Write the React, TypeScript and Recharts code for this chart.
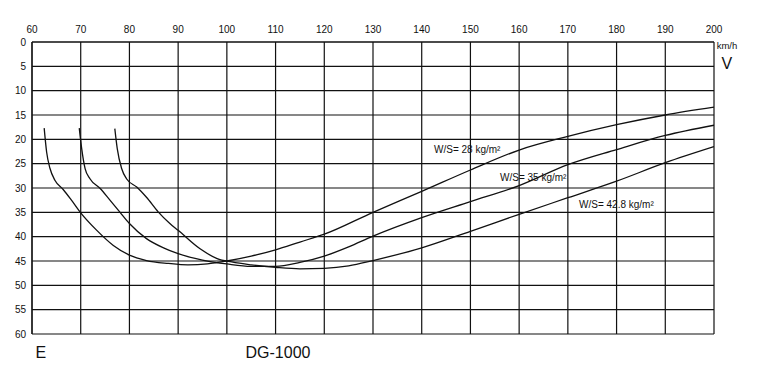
import { LineChart, Line, XAxis, YAxis, CartesianGrid } from 'recharts';

const speedTicks = [60, 70, 80, 90, 100, 110, 120, 130, 140, 150, 160, 170, 180, 190, 200];
const glideTicks = [0, 5, 10, 15, 20, 25, 30, 35, 40, 45, 50, 55, 60];

// W/S = 28 kg/m²
const speed28 = [62.5, 63, 63.7, 64.7, 66.4, 68.1, 70, 73.3, 76.7, 80, 83.5, 88, 92, 96, 100, 105, 110, 115, 120, 130, 140, 150, 160, 170, 180, 190, 200];
const glide28 = [17.7, 22.6, 26, 28.4, 30.3, 32.5, 35.1, 38.7, 41.8, 43.8, 44.9, 45.5, 45.8, 45.6, 45.0, 44.0, 42.7, 41.1, 39.5, 35.0, 30.7, 26.3, 22.2, 19.4, 17.0, 15.0, 13.4];

// W/S = 35 kg/m²
const speed35 = [69.7, 70.2, 70.9, 71.9, 74, 76, 78, 80, 83.5, 87, 90, 95, 100, 105, 110, 115, 120, 125, 130, 140, 150, 160, 170, 180, 190, 200];
const glide35 = [17.7, 21.9, 26, 28.1, 30.1, 32.5, 34.9, 37.3, 40.4, 42.3, 43.5, 44.8, 45.6, 46.1, 46.1, 45.3, 44.0, 42.1, 39.9, 36.1, 32.8, 29.5, 25.2, 22.1, 19.2, 17.1];

// W/S = 42.8 kg/m²
const speed43 = [77, 77.5, 78.4, 79.4, 81.5, 83.5, 85.9, 88.3, 90, 94.5, 98, 101, 105, 110, 115, 120, 125, 130, 140, 150, 160, 170, 180, 190, 200];
const glide43 = [17.8, 21.9, 26, 28.1, 29.8, 31.9, 34.9, 37.3, 38.7, 42.5, 44.5, 45.2, 45.8, 46.3, 46.6, 46.5, 46.0, 44.9, 42.3, 38.9, 35.4, 32.0, 28.6, 24.8, 21.5];

const toPoints = (v: number[], e: number[]) => v.map((s, i) => ({ v: s, e: e[i] }));

const INK = '#111';
const FONT = '"Liberation Sans", Arial, sans-serif';

const label = (left: number, top: number, size: number): React.CSSProperties => ({
  position: 'absolute', left, top, fontSize: size, lineHeight: 1, fontFamily: FONT, color: INK, whiteSpace: 'nowrap',
});

export default function App() {
  return (
    <div style={{ position: 'relative', width: 744, height: 360, background: '#fff' }}>
      <LineChart width={744} height={360} margin={{ top: 14, right: 38, bottom: 34, left: 0 }}>
        <CartesianGrid stroke={INK} strokeWidth={1.2} />
        <XAxis
          type="number" dataKey="v" orientation="top" domain={[60, 200]} ticks={speedTicks}
          height={20} tickLine={false} tickSize={7} tickMargin={2} axisLine={{ stroke: INK, strokeWidth: 1.2 }}
          tick={{ fontSize: 10, fill: INK, fontFamily: FONT }} allowDataOverflow
        />
        <YAxis
          type="number" dataKey="e" reversed domain={[0, 60]} ticks={glideTicks}
          width={24} tickLine={false} tickSize={4} tickMargin={2} axisLine={{ stroke: INK, strokeWidth: 1.2 }}
          tick={{ fontSize: 10, fill: INK, fontFamily: FONT }} allowDataOverflow
        />
        <Line data={toPoints(speed28, glide28)} dataKey="e" type="monotone" stroke={INK} strokeWidth={1.3} dot={false} isAnimationActive={false} />
        <Line data={toPoints(speed35, glide35)} dataKey="e" type="monotone" stroke={INK} strokeWidth={1.3} dot={false} isAnimationActive={false} />
        <Line data={toPoints(speed43, glide43)} dataKey="e" type="monotone" stroke={INK} strokeWidth={1.3} dot={false} isAnimationActive={false} />
      </LineChart>
      <span style={label(708.7, 32.5, 9.5)}>km/h</span>
      <span style={label(713.5, 48, 16)}>V</span>
      <span style={label(27.5, 336.5, 16)}>E</span>
      <span style={label(237.5, 336.5, 16)}>DG-1000</span>
      <span style={label(426, 137, 10)}>W/S= 28 kg/m²</span>
      <span style={label(492, 165, 10)}>W/S= 35 kg/m²</span>
      <span style={label(571, 192, 10)}>W/S= 42.8 kg/m²</span>
    </div>
  );
}
